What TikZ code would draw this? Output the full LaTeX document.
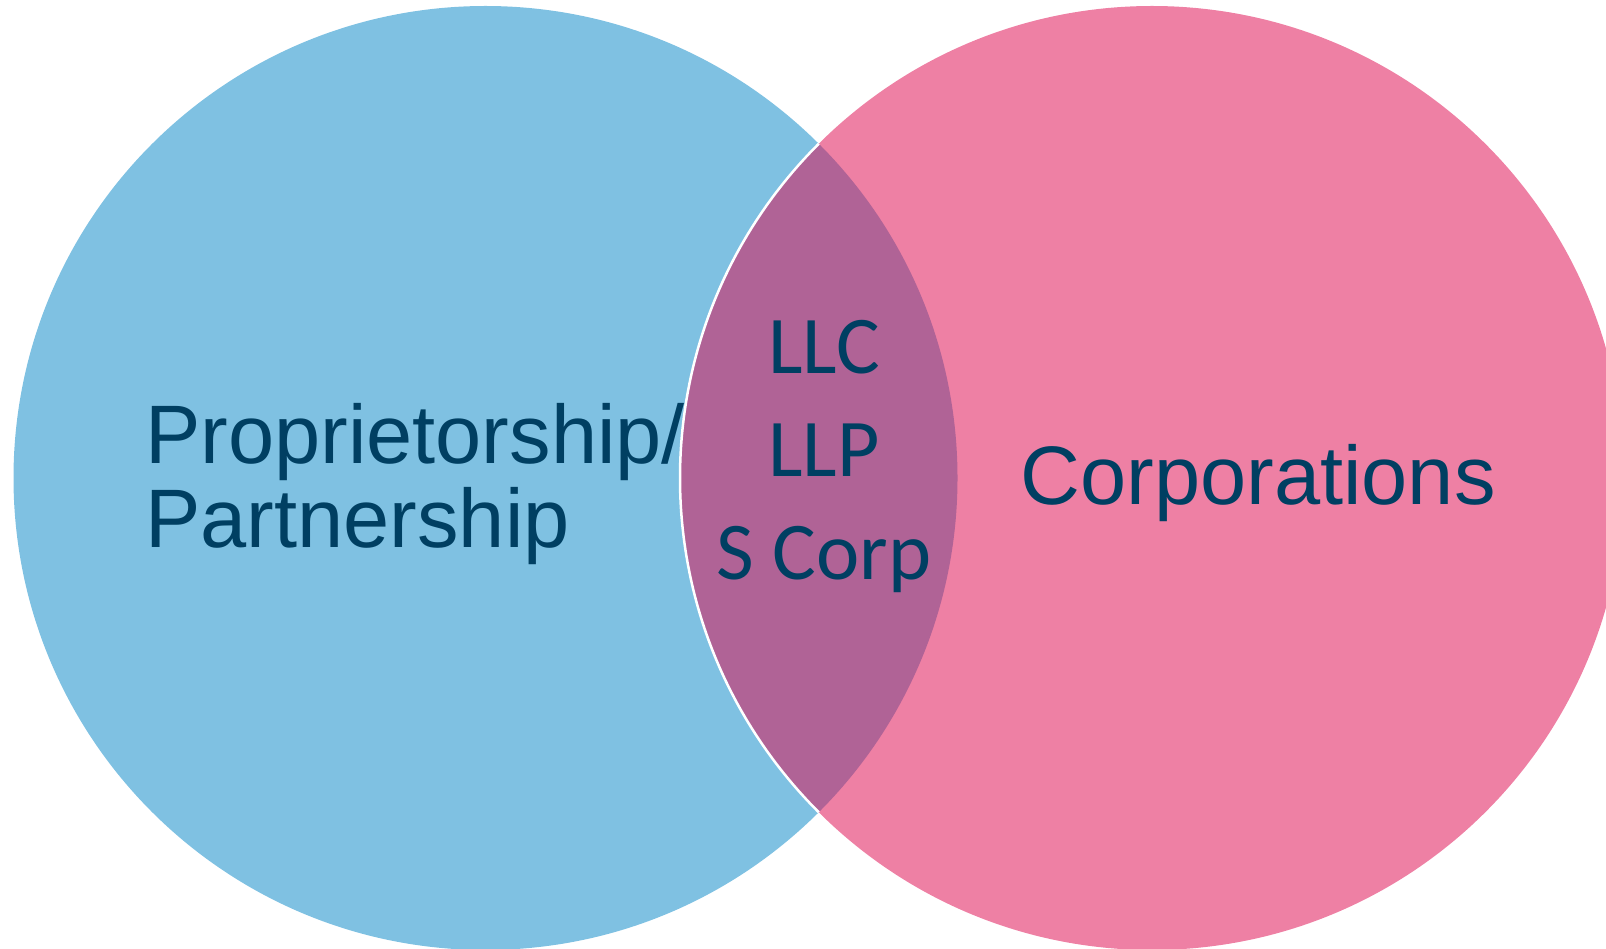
\documentclass[tikz,border=0pt]{standalone}
\usepackage{fontspec}
\setmainfont{Liberation Sans}
\newfontfamily\calibri{Carlito}
\definecolor{propblue}{RGB}{127,193,226}
\definecolor{corppink}{RGB}{238,128,164}
\definecolor{overlap}{RGB}{176,99,150}
\definecolor{labelink}{RGB}{0,63,98}
\tikzset{label text/.style={text=labelink, inner sep=0pt}}
\begin{document}
\begin{tikzpicture}[x=1pt, y=-1pt]
\useasboundingbox (0,0) rectangle (1606,949);
\coordinate (L) at (485.5,478);
\coordinate (R) at (1152,478);
\fill[propblue](L) circle[radius=472pt];
\fill[corppink](R) circle[radius=472pt];
\begin{scope}
\clip (L) circle[radius=472pt];
\fill[overlap](R) circle[radius=472pt];
\draw[white, line width=2.5pt](R) circle[radius=472pt];
\end{scope}
\node[label text, anchor=base west, align=left, font=\fontsize{83}{84}\selectfont] (prop) at (145,547) {Proprietorship/\\Partnership};
\node[label text, anchor=base, font=\fontsize{83}{84}\selectfont] (corp) at (1258,504) {Corporations};
\node[label text, anchor=base, align=center, font=\calibri\fontsize{82}{103}\selectfont] (hybrid) at (824,579) {LLC\\LLP\\S Corp};
\end{tikzpicture}
\end{document}
